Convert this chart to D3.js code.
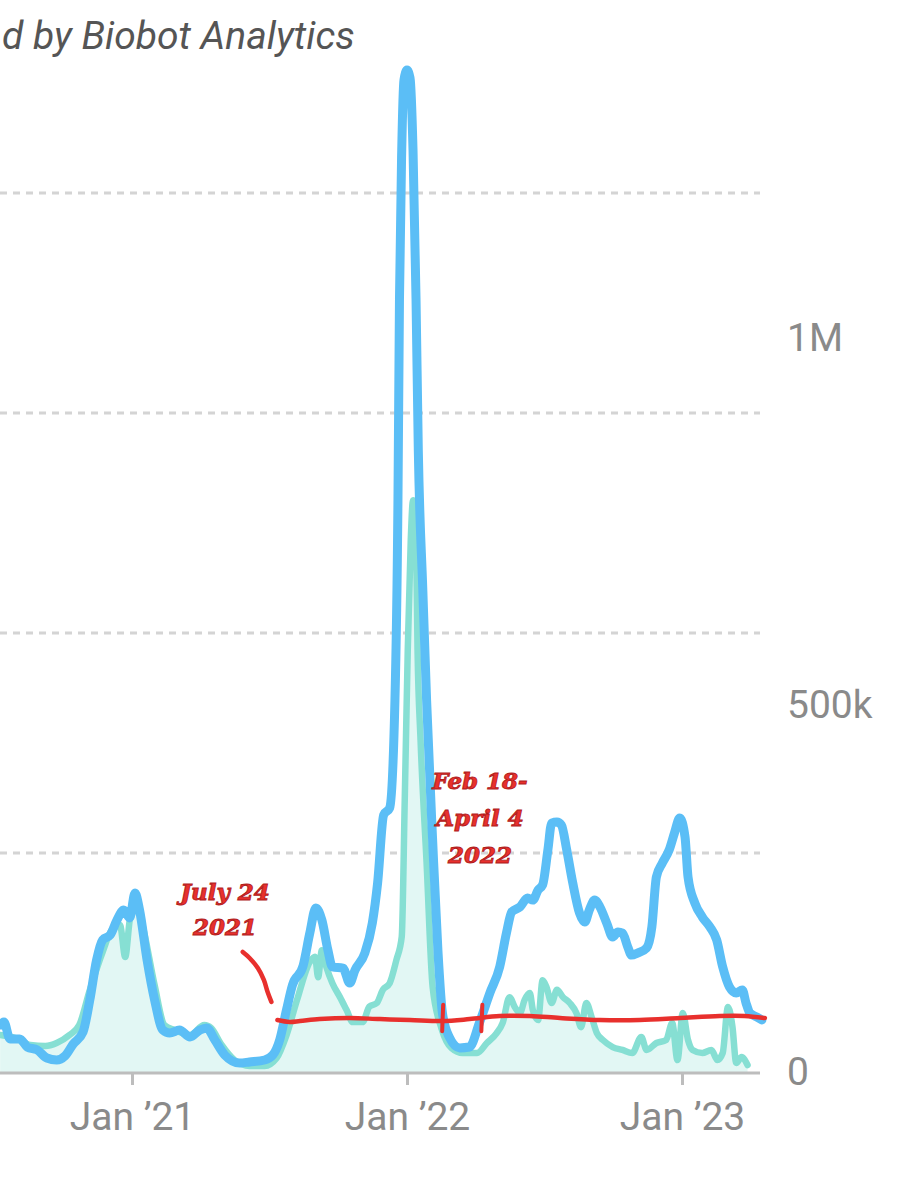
<!DOCTYPE html>
<html>
<head>
<meta charset="utf-8">
<script src="https://cdn.jsdelivr.net/npm/d3@7"></script>
<style>
  html, body { margin: 0; padding: 0; background: #fff; }
  svg { display: block; }
</style>
</head>
<body>
<svg id="chart" width="901" height="1200"></svg>
<script>
// ---------------- DATA ----------------
const titleText = "d by Biobot Analytics";

// Wastewater (effective SARS-CoV-2 copies/mL, left axis)
const wwDates = ["2020-07-10","2020-07-15","2020-07-23","2020-08-05","2020-08-15","2020-08-28","2020-09-10","2020-09-23","2020-10-04","2020-10-15","2020-10-28","2020-11-06","2020-11-15","2020-11-23","2020-12-03","2020-12-12","2020-12-21","2020-12-29","2021-01-05","2021-01-11","2021-01-21","2021-01-31","2021-02-11","2021-02-20","2021-03-05","2021-03-19","2021-04-01","2021-04-10","2021-04-21","2021-05-04","2021-05-24","2021-06-06","2021-06-26","2021-07-07","2021-07-16","2021-07-25","2021-08-02","2021-08-16","2021-08-25","2021-09-02","2021-09-10","2021-09-18","2021-09-24","2021-10-08","2021-10-17","2021-10-24","2021-11-06","2021-11-16","2021-11-23","2021-12-01","2021-12-09","2021-12-16","2021-12-20","2021-12-22","2021-12-25","2021-12-28","2022-01-01","2022-01-05","2022-01-09","2022-01-13","2022-01-16","2022-01-22","2022-01-27","2022-02-04","2022-02-11","2022-02-17","2022-02-26","2022-03-12","2022-03-25","2022-04-07","2022-04-21","2022-05-04","2022-05-13","2022-05-20","2022-05-31","2022-06-10","2022-06-17","2022-06-24","2022-06-30","2022-07-07","2022-07-12","2022-07-19","2022-07-25","2022-08-01","2022-08-09","2022-08-18","2022-08-25","2022-08-31","2022-09-07","2022-09-14","2022-09-23","2022-10-01","2022-10-08","2022-10-14","2022-10-21","2022-10-26","2022-11-03","2022-11-15","2022-11-22","2022-11-28","2022-12-06","2022-12-15","2022-12-22","2022-12-29","2023-01-05","2023-01-09","2023-01-18","2023-01-28","2023-02-07","2023-02-16","2023-02-24","2023-03-05","2023-03-14","2023-03-22","2023-03-27","2023-04-01","2023-04-10","2023-04-17"];
const wwValues = [218,232,155,155,118,105,68,59,77,132,186,332,514,605,627,695,741,705,818,741,514,332,195,182,195,164,195,205,150,82,45,50,59,82,150,286,400,486,636,750,695,559,482,477,409,468,545,682,864,1173,1205,1695,2605,3514,4195,4514,4559,4523,4195,3514,2832,2195,1695,1059,559,273,164,114,118,227,364,482,636,732,755,795,786,832,855,1014,1136,1141,1127,1014,864,727,686,741,786,755,682,618,641,636,573,536,545,568,664,891,955,1014,1091,1159,1073,891,773,709,664,605,482,391,364,377,318,273,255,241];

// Reported cases, 7-day average (right axis)
const caseDates = ["2020-07-10","2020-07-30","2020-08-19","2020-09-08","2020-09-23","2020-10-10","2020-10-23","2020-11-06","2020-11-23","2020-12-05","2020-12-16","2020-12-23","2020-12-29","2021-01-05","2021-01-15","2021-01-31","2021-02-13","2021-02-27","2021-03-19","2021-04-07","2021-04-16","2021-04-30","2021-05-17","2021-06-06","2021-06-26","2021-07-12","2021-07-25","2021-08-08","2021-08-25","2021-09-01","2021-09-05","2021-09-10","2021-09-16","2021-09-24","2021-10-04","2021-10-13","2021-10-21","2021-11-03","2021-11-12","2021-11-22","2021-11-30","2021-12-09","2021-12-18","2021-12-25","2021-12-29","2022-01-02","2022-01-06","2022-01-09","2022-01-13","2022-01-15","2022-01-19","2022-01-27","2022-02-04","2022-02-16","2022-03-01","2022-03-16","2022-04-04","2022-04-17","2022-04-30","2022-05-08","2022-05-17","2022-05-24","2022-05-31","2022-06-06","2022-06-13","2022-06-17","2022-06-24","2022-06-30","2022-07-05","2022-07-12","2022-07-19","2022-07-27","2022-08-05","2022-08-14","2022-08-20","2022-08-27","2022-09-03","2022-09-10","2022-09-18","2022-10-01","2022-10-14","2022-10-27","2022-11-08","2022-11-15","2022-11-28","2022-12-11","2022-12-19","2022-12-26","2023-01-02","2023-01-09","2023-01-15","2023-01-28","2023-02-09","2023-02-17","2023-02-24","2023-03-03","2023-03-09","2023-03-14","2023-03-21","2023-03-29"];
const caseValues = [50400,46300,36800,35400,39500,50400,64000,111700,163500,193500,200300,156700,207000,234000,200000,118500,64000,57000,50400,64000,60000,36800,16300,8200,8200,19000,50000,98000,150000,157000,129000,166000,143000,121000,102000,84000,68000,68000,89000,94000,112000,121000,153000,184000,370000,575000,725000,779000,725000,575000,452000,285000,116000,58600,32700,25900,25900,39500,53000,66800,102000,88600,80400,98000,107600,84500,70800,125000,116000,94000,112000,102000,94000,80000,61000,94000,75000,53000,43600,34000,30000,25900,47700,30000,39500,43600,66800,16300,80400,43600,30000,25900,30000,16300,25900,88600,61300,12300,20400,9500];

// Axis ticks
const xTickDates = ["2021-01-01","2022-01-01","2023-01-01"];
const xTickLabels = ["Jan \u201921","Jan \u201922","Jan \u201923"];
const leftGridValues = [1000,2000,3000,4000];
const rightTickValues = [0,500000,1000000];
const rightTickLabels = ["0","500k","1M"];

// Hand-drawn red annotations (date, wastewater level)
const redLineDates = ["2021-07-13","2021-07-29","2021-08-12","2021-09-07","2021-10-17","2021-11-26","2022-01-05","2022-02-17","2022-03-25","2022-05-04","2022-06-13","2022-07-23","2022-09-14","2022-11-06","2022-12-29","2023-02-20","2023-03-25","2023-04-21"];
const redLineValues = [241,232,236,245,250,245,241,236,245,259,259,250,241,241,250,259,259,250];
const redArrowDates = ["2021-05-28","2021-06-06","2021-06-17","2021-06-25","2021-06-30","2021-07-05"];
const redArrowValues = [550,523,477,423,368,323];
const redTickDates = ["2022-02-18","2022-04-11"];
const annoJuly = ["July 24","2021"];
const annoFeb = ["Feb 18-","April 4","2022"];

// ---------------- CHART ----------------
const parse = d3.timeParse("%Y-%m-%d");
const svg = d3.select("#chart");

const x = d3.scaleTime()
  .domain([parse("2021-01-01"), parse("2023-01-01")])
  .range([132, 682]);
const yL = d3.scaleLinear().domain([0, 4000]).range([1073, 193]);
const yR = d3.scaleLinear().domain([0, 1000000]).range([1072, 338]);

const ww = wwDates.map((d, i) => ({ date: parse(d), v: wwValues[i] }));
const cases = caseDates.map((d, i) => ({ date: parse(d), v: caseValues[i] }));

// Title
svg.append("text")
  .attr("x", 2).attr("y", 49)
  .attr("font-family", "Roboto, sans-serif")
  .attr("font-style", "italic")
  .attr("font-size", 39)
  .attr("fill", "#555")
  .text(titleText);

// Gridlines
svg.append("g").selectAll("line")
  .data(leftGridValues).join("line")
  .attr("x1", 0).attr("x2", 760)
  .attr("y1", d => yL(d)).attr("y2", d => yL(d))
  .attr("stroke", "#d4d4d4")
  .attr("stroke-width", 3)
  .attr("stroke-dasharray", "7 6");

// Cases area (pale)
svg.append("path")
  .datum(cases)
  .attr("fill", "#e2f7f4")
  .attr("d", d3.area().x(d => x(d.date)).y0(yR(0)).y1(d => yR(d.v)).curve(d3.curveMonotoneX));

// Cases line
svg.append("path")
  .datum(cases)
  .attr("fill", "none")
  .attr("stroke", "#86dfd3")
  .attr("stroke-width", 6.5)
  .attr("stroke-linejoin", "round")
  .attr("stroke-linecap", "round")
  .attr("d", d3.line().x(d => x(d.date)).y(d => yR(d.v)).curve(d3.curveMonotoneX));

// X axis baseline + ticks
const xAxis = d3.axisBottom(x)
  .tickValues(xTickDates.map(parse))
  .tickFormat((d, i) => xTickLabels[i])
  .tickSize(12)
  .tickPadding(17);
const gx = svg.append("g")
  .attr("transform", `translate(0,${yL(0)})`)
  .call(xAxis);
gx.select(".domain").remove();
gx.append("line").attr("x1", 0).attr("x2", 760).attr("y1", 0).attr("y2", 0)
  .attr("stroke", "#bdbdbd").attr("stroke-width", 3);
gx.selectAll(".tick line").attr("stroke", "#bdbdbd").attr("stroke-width", 3);
gx.selectAll(".tick text")
  .attr("font-family", "Roboto, sans-serif")
  .attr("font-size", 39)
  .attr("fill", "#8a8a8a")
  .attr("dy", "0.73em");

// Wastewater line
svg.append("path")
  .datum(ww)
  .attr("fill", "none")
  .attr("stroke", "#5bbef6")
  .attr("stroke-width", 9)
  .attr("stroke-linejoin", "round")
  .attr("stroke-linecap", "round")
  .attr("d", d3.line().x(d => x(d.date)).y(d => yL(d.v)).curve(d3.curveMonotoneX));

// Right axis labels
const yAxisR = d3.axisRight(yR)
  .tickValues(rightTickValues)
  .tickFormat((d, i) => rightTickLabels[i])
  .tickSize(0)
  .tickPadding(0);
const gy = svg.append("g").attr("transform", "translate(787,0)").call(yAxisR);
gy.select(".domain").remove();
gy.selectAll(".tick text")
  .attr("font-family", "Roboto, sans-serif")
  .attr("font-size", 39)
  .attr("fill", "#8a8a8a");

// Red annotations
const red = "#e8302d";
const redLine = redLineDates.map((d, i) => ({ date: parse(d), v: redLineValues[i] }));
svg.append("path").datum(redLine)
  .attr("fill", "none").attr("stroke", red).attr("stroke-width", 4.5)
  .attr("stroke-linecap", "round").attr("stroke-linejoin", "round")
  .attr("d", d3.line().x(d => x(d.date)).y(d => yL(d.v)).curve(d3.curveCatmullRom));

const redArrow = redArrowDates.map((d, i) => ({ date: parse(d), v: redArrowValues[i] }));
svg.append("path").datum(redArrow)
  .attr("fill", "none").attr("stroke", red).attr("stroke-width", 4.5)
  .attr("stroke-linecap", "round")
  .attr("d", d3.line().x(d => x(d.date)).y(d => yL(d.v)).curve(d3.curveCatmullRom));

svg.append("g").selectAll("line").data(redTickDates).join("line")
  .attr("x1", d => x(parse(d))).attr("x2", d => x(parse(d)) - 1)
  .attr("y1", yL(310)).attr("y2", yL(190))
  .attr("stroke", red).attr("stroke-width", 4).attr("stroke-linecap", "round");

function annotate(lines, cx, y0, dy) {
  const t = svg.append("text")
    .attr("font-family", "'DejaVu Serif', serif")
    .attr("font-weight", "bold")
    .attr("font-style", "italic")
    .attr("font-size", 23)
    .attr("fill", red)
    .attr("stroke", "#b01c1c")
    .attr("stroke-width", 0.9)
    .attr("text-anchor", "middle");
  lines.forEach((l, i) => t.append("tspan").attr("x", cx).attr("y", y0 + i * dy).text(l));
}
annotate(annoJuly, 225, 900, 35);
annotate(annoFeb, 480, 789, 37);
</script>
</body>
</html>
